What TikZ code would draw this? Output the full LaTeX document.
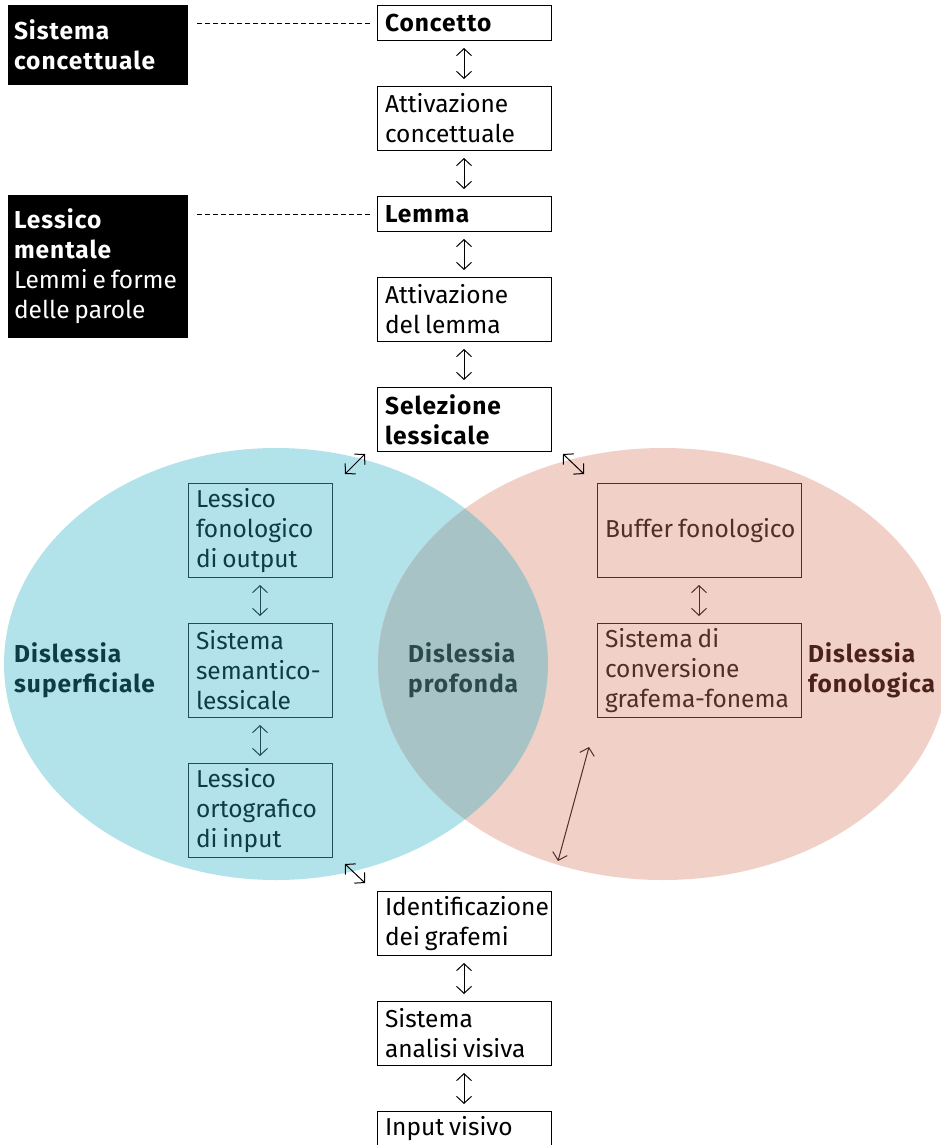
\documentclass[tikz,border=0pt]{standalone}
\usepackage{fontspec}
\setmainfont{Fira Sans}[BoldFeatures={LetterSpace=4}]
\usetikzlibrary{positioning, arrows.meta, shapes}

\definecolor{bluefill}{HTML}{B2E2EA}
\definecolor{pinkfill}{HTML}{F0D0C7}
\definecolor{overlapfill}{HTML}{A7C3C5}
\definecolor{tealline}{HTML}{1F4E55}
\definecolor{tealtext}{HTML}{0E3C45}
\definecolor{deeptext}{HTML}{2C4A4E}
\definecolor{brownline}{HTML}{4E302A}
\definecolor{browntext}{HTML}{4A2219}

\tikzset{
  base/.style={font=\fontsize{24.5}{30}\selectfont, execute at begin node={\spaceskip=0.2em\relax}, align=left, inner xsep=8pt, inner ysep=0pt},
  stage/.style={base, draw, line width=1pt, fill=white, text width=158pt},
  darkbox/.style={base, fill=black, text=white, inner xsep=6pt, text width=168pt},
  lexbox/.style={base, draw=tealline, text=tealtext, line width=1pt, text width=128pt, minimum height=94pt},
  fonbox/.style={base, draw=brownline, text=brownline, line width=1pt, text width=188pt, minimum height=94pt},
  area/.style={base, anchor=west, font=\fontsize{24.5}{30}\selectfont\bfseries},
  updown/.style={<->, line width=1pt, shorten <=7pt, shorten >=7pt},
  dashline/.style={dash pattern=on 5pt off 3pt, line width=0.9pt, shorten <=9pt, shorten >=7pt},
}

\begin{document}
\begin{tikzpicture}[x=1pt, y=-1pt, >={Straight Barb[length=7pt,width=15pt]}, node distance=45pt]
  \clip (0,0) rectangle (941,1145);

  % the two areas and their overlap
  \fill[bluefill] (276,664) ellipse [x radius=272, y radius=216];
  \fill[pinkfill] (663,664) ellipse [x radius=285, y radius=216];
  \begin{scope}
    \clip (276,664) ellipse [x radius=272, y radius=216];
    \fill[overlapfill] (663,664) ellipse [x radius=285, y radius=216];
  \end{scope}

  % side headings
  \node[darkbox, minimum height=80pt] (sistema) at (98,45) {\textbf{Sistema}\\\textbf{concettuale}};
  \node[darkbox, minimum height=143pt] (lessico) at (98,266.5) {\textbf{Lessico}\\\textbf{mentale}\\\mbox{Lemmi e forme}\\\mbox{delle parole}};

  % central column
  \node[stage, minimum height=35pt, anchor=north] (concetto) at (464,5) {\textbf{Concetto}};
  \node[stage, minimum height=64pt, below=of concetto] (attconc) {Attivazione\\concettuale};
  \node[stage, minimum height=35pt, below=of attconc] (lemma) {\textbf{Lemma}};
  \node[stage, minimum height=64pt, below=of lemma] (attlemma) {Attivazione\\del lemma};
  \node[stage, minimum height=64pt, below=of attlemma] (selezione) {\textbf{Selezione}\\\textbf{lessicale}};

  \node[stage, minimum height=64pt, anchor=north] (grafemi) at (464,891) {\mbox{Identificazione}\\dei grafemi};
  \node[stage, minimum height=64pt, below=of grafemi] (analisi) {Sistema\\\mbox{analisi visiva}};
  \node[stage, minimum height=35pt, below=of analisi] (input) {Input visivo};

  % left column
  \node[lexbox, anchor=north] (lexfon) at (260,483) {Lessico\\fonologico\\di output};
  \node[lexbox, below=of lexfon] (semlex) {Sistema\\semantico-\\lessicale};
  \node[lexbox, below=of semlex] (lexorto) {Lessico\\ortografico\\di input};

  % right column
  \node[fonbox, anchor=north] (buffer) at (699,483) {\mbox{Buffer fonologico}};
  \node[fonbox, below=of buffer] (convers) {Sistema di\\conversione\\\mbox{grafema-fonema}};

  % area labels
  \node[area, text=tealtext] (superf) at (6,670) {Dislessia\\superficiale};
  \node[area, text=deeptext] (profonda) at (400,670) {Dislessia\\profonda};
  \node[area, text=browntext] (fonol) at (800,670) {Dislessia\\fonologica};

  \coordinate (sb1) at (345,474); \coordinate (sb2) at (365,454);
  \coordinate (sp1) at (563,454); \coordinate (sp2) at (584,474);
  \coordinate (gb1) at (345,864); \coordinate (gb2) at (365,883);
  \coordinate (cv1) at (589,747); \coordinate (cv2) at (558,861);

  \draw[dashline] (sistema.east |- concetto.west) -- (concetto.west);
  \draw[dashline] (lessico.east |- lemma.west) -- (lemma.west);

  \path[updown]
    (concetto.south) edge (attconc.north)
    (attconc.south) edge (lemma.north)
    (lemma.south) edge (attlemma.north)
    (attlemma.south) edge (selezione.north)
    (grafemi.south) edge (analisi.north)
    (analisi.south) edge (input.north);
  \path[updown, tealline]
    (lexfon.south) edge (semlex.north)
    (semlex.south) edge (lexorto.north);
  \path[updown, brownline]
    (buffer.south) edge (convers.north);
  \path[<->, line width=1pt]
    (sb1) edge (sb2)
    (sp1) edge (sp2)
    (gb1) edge (gb2);
  \path[<->, line width=1pt, brownline]
    (cv1) edge (cv2);
\end{tikzpicture}
\end{document}
